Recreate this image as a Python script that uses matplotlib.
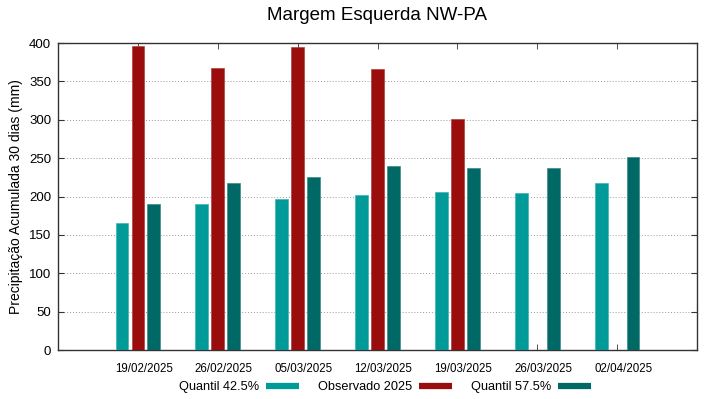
import matplotlib.pyplot as plt
from matplotlib.lines import Line2D
import numpy as np

plt.rcParams['font.family'] = ['Liberation Sans', 'DejaVu Sans']

datas = ["19/02/2025", "26/02/2025", "05/03/2025", "12/03/2025",
         "19/03/2025", "26/03/2025", "02/04/2025"]
quantil_425 = [165, 190, 197, 202, 206, 204, 218]
observado = [396, 368, 395, 366, 301, np.nan, np.nan]
quantil_575 = [190, 217, 226, 240, 237, 237, 252]

cor_q1 = "#009b98"
cor_obs = "#990d0d"
cor_q2 = "#006865"

x = np.arange(len(datas))
larg = 0.16
desl = 0.2

fig = plt.figure(figsize=(7.19, 3.99), dpi=100)
ax = fig.add_axes([0.0807, 0.1228, 0.9694 - 0.0807, 0.8922 - 0.1228])

ax.bar(x - desl, quantil_425, larg, color=cor_q1, edgecolor="#3fb3b0", linewidth=0.5, zorder=3)
ax.bar(x, observado, larg, color=cor_obs, edgecolor="#b04040", linewidth=0.5, zorder=3)
ax.bar(x + desl, quantil_575, larg, color=cor_q2, edgecolor="#3f8a87", linewidth=0.5, zorder=3)

ax.set_xlim(-1, 7)
ax.set_ylim(0, 400)
ax.set_yticks(np.arange(0, 401, 50))

# marcas nos centros dos grupos, rótulos levemente deslocados (como no gnuplot)
ax.set_xticks(x, minor=True)
ax.set_xticks(x + 0.075)
ax.set_xticklabels(datas, fontsize=8.3)
ax.tick_params(axis='x', which='major', length=0, pad=9.5)
ax.tick_params(axis='x', which='minor', direction='in', length=4, top=True, color="#333333")
ax.tick_params(axis='y', direction='in', length=4, pad=5, right=True, labelsize=9.5, color="#333333")
ax.grid(axis='y', linestyle=(0, (1, 2)), color="#999999", linewidth=0.7, zorder=0)
for s in ax.spines.values():
    s.set_color("#333333")
    s.set_linewidth(1.0)

ax.set_ylabel("Precipitação Acumulada 30 dias (mm)", fontsize=10, labelpad=4)
fig.text(0.524, 0.962, "Margem Esquerda NW-PA", ha='center', va='center', fontsize=13.5)

handles = [Line2D([0], [0], color=c, lw=4.5, solid_capstyle='butt')
           for c in (cor_q1, cor_obs, cor_q2)]
fig.legend(handles, ["Quantil 42.5%", "Observado 2025", "Quantil 57.5%"],
           loc='center', bbox_to_anchor=(0.536, 0.03), ncol=3, frameon=False,
           markerfirst=False, fontsize=9.2, handlelength=2.6, columnspacing=1.5,
           handletextpad=0.5)

plt.savefig("out.png", dpi=100)
